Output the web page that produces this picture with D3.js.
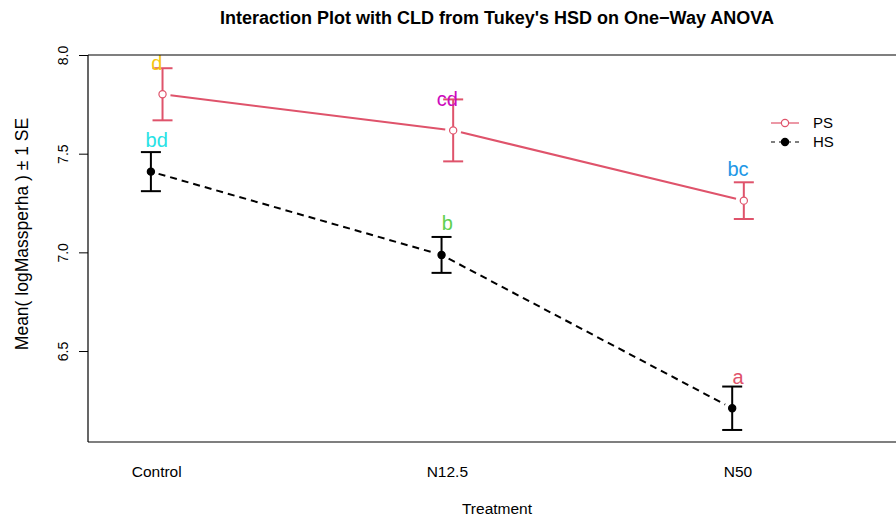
<!DOCTYPE html>
<html>
<head>
<meta charset="utf-8">
<script src="https://cdn.jsdelivr.net/npm/d3@7"></script>
<style>
  body { margin: 0; background: #fff; }
  svg { display: block; }
  text { font-family: "Liberation Sans", Arial, Helvetica, sans-serif; fill: #000; }
</style>
</head>
<body>
<svg id="chart" width="896" height="516"></svg>
<script>
// Treatment levels and group means (log mass per ha) with standard errors
const treatments = ["Control", "N12.5", "N50"];
const groups = ["PS", "HS"];
const psMean = [7.801, 7.618, 7.262];
const psSE = [0.132, 0.157, 0.093];
const hsMean = [7.409, 6.987, 6.210];
const hsSE = [0.099, 0.091, 0.110];
// Compact letter display from Tukey's HSD
const psLetters = ["d", "cd", "bc"];
const hsLetters = ["bd", "b", "a"];
const yTicks = [6.5, 7.0, 7.5, 8.0];

const letterColors = { a: "#DF536B", b: "#61D04F", bc: "#2297E6", bd: "#28E2E5", cd: "#CD0BBC", d: "#F5C710" };
const groupStyle = {
  PS: { color: "#DF536B", dash: null, fill: "#fff" },
  HS: { color: "#000", dash: "7,5", fill: "#000" }
};

const W = 896, H = 516;
const plot = { left: 88, right: 906, top: 55, bottom: 442 };
const dodge = 0.02;
const letterOffset = 0.155;

const svg = d3.select("#chart");

const x = d3.scaleLinear().domain([0.7636, 3.578]).range([plot.left, plot.right]);
const y = d3.scaleLinear().domain([6.039, 8.0]).range([plot.bottom, plot.top]);

const series = [
  { key: "PS", mean: psMean, se: psSE, letters: psLetters, shift: dodge },
  { key: "HS", mean: hsMean, se: hsSE, letters: hsLetters, shift: -dodge }
];

svg.append("defs").append("clipPath").attr("id", "plotclip")
  .append("rect").attr("x", plot.left).attr("y", plot.top - 30)
  .attr("width", plot.right - plot.left).attr("height", plot.bottom - plot.top + 30);

const g = svg.append("g").attr("clip-path", "url(#plotclip)");

// connecting lines, broken around each point
series.forEach(s => {
  const st = groupStyle[s.key];
  const pts = s.mean.map((m, i) => [x(i + 1 + s.shift), y(m)]);
  for (let i = 0; i < pts.length - 1; i++) {
    const [x0, y0] = pts[i], [x1, y1] = pts[i + 1];
    const len = Math.hypot(x1 - x0, y1 - y0);
    const gap = 8;
    const ux = (x1 - x0) / len, uy = (y1 - y0) / len;
    g.append("line")
      .attr("x1", x0 + ux * gap).attr("y1", y0 + uy * gap)
      .attr("x2", x1 - ux * gap).attr("y2", y1 - uy * gap)
      .attr("stroke", st.color).attr("stroke-width", 2)
      .attr("stroke-dasharray", st.dash);
  }
});

// error bars (mean ± 1 SE)
series.forEach(s => {
  const st = groupStyle[s.key];
  s.mean.forEach((m, i) => {
    const cx = x(i + 1 + s.shift);
    const lo = y(m - s.se[i]), hi = y(m + s.se[i]);
    g.append("line").attr("x1", cx).attr("x2", cx).attr("y1", lo).attr("y2", hi)
      .attr("stroke", st.color).attr("stroke-width", 2);
    [lo, hi].forEach(yy => {
      g.append("line").attr("x1", cx - 10).attr("x2", cx + 10).attr("y1", yy).attr("y2", yy)
        .attr("stroke", st.color).attr("stroke-width", 2);
    });
  });
});

// points
series.forEach(s => {
  const st = groupStyle[s.key];
  g.selectAll(null).data(s.mean).enter().append("circle")
    .attr("cx", (d, i) => x(i + 1 + s.shift))
    .attr("cy", d => y(d))
    .attr("r", 3.6)
    .attr("fill", st.fill)
    .attr("stroke", st.color)
    .attr("stroke-width", 1.2);
});

// CLD letters
series.forEach(s => {
  g.selectAll(null).data(s.letters).enter().append("text")
    .attr("x", (d, i) => x(i + 1))
    .attr("y", (d, i) => y(s.mean[i] + letterOffset))
    .attr("dy", "0.3em")
    .attr("text-anchor", "middle")
    .style("font-size", "20px")
    .style("fill", d => letterColors[d])
    .text(d => d);
});

// plot frame (open on the right edge of the canvas)
const frame = svg.append("g").attr("stroke", "#000").attr("stroke-width", 1.2);
frame.append("line").attr("x1", plot.left).attr("x2", W).attr("y1", plot.top).attr("y2", plot.top);
frame.append("line").attr("x1", plot.left).attr("x2", W).attr("y1", plot.bottom).attr("y2", plot.bottom);
frame.append("line").attr("x1", plot.left).attr("x2", plot.left).attr("y1", plot.top).attr("y2", plot.bottom);

// y axis
const yAxis = svg.append("g").attr("transform", `translate(${plot.left},0)`)
  .call(d3.axisLeft(y).tickValues(yTicks).tickSize(9).tickFormat(d3.format(".1f")));
yAxis.select(".domain").remove();
yAxis.selectAll(".tick line").attr("stroke", "#000").attr("stroke-width", 1);
yAxis.selectAll(".tick text")
  .attr("x", 0).attr("y", -20).attr("dy", 0)
  .attr("text-anchor", "middle")
  .attr("transform", "rotate(-90)")
  .style("font-size", "14px")
  .style("font-family", "'Liberation Sans', Arial, sans-serif");

// x category labels
svg.selectAll(null).data(treatments).enter().append("text")
  .attr("x", (d, i) => x(i + 1))
  .attr("y", 477)
  .attr("text-anchor", "middle")
  .style("font-size", "15.5px")
  .text(d => d);

// axis titles and main title
const midX = (plot.left + plot.right) / 2;
svg.append("text").attr("x", midX).attr("y", 514).attr("text-anchor", "middle")
  .style("font-size", "15.5px").text("Treatment");
svg.append("text")
  .attr("transform", `translate(28,234) rotate(-90)`)
  .attr("text-anchor", "middle")
  .style("font-size", "17.5px")
  .text("Mean( logMassperha ) \u00b1 1 SE");
svg.append("text").attr("x", midX).attr("y", 24).attr("text-anchor", "middle")
  .style("font-size", "18px").style("font-weight", "bold")
  .text("Interaction Plot with CLD from Tukey's HSD on One\u2212Way ANOVA");

// legend
const legend = svg.append("g");
groups.forEach((k, i) => {
  const st = groupStyle[k];
  const ly = 123 + i * 19;
  legend.append("line").attr("x1", 771).attr("x2", 799).attr("y1", ly).attr("y2", ly)
    .attr("stroke", st.color).attr("stroke-width", 1.2)
    .attr("stroke-dasharray", k === "HS" ? "4,4" : null);
  legend.append("circle").attr("cx", 785).attr("cy", ly).attr("r", 3.6)
    .attr("fill", st.fill).attr("stroke", st.color).attr("stroke-width", 1.2);
  legend.append("text").attr("x", 813).attr("y", ly).attr("dy", "0.35em")
    .style("font-size", "15px").text(k);
});
</script>
</body>
</html>
